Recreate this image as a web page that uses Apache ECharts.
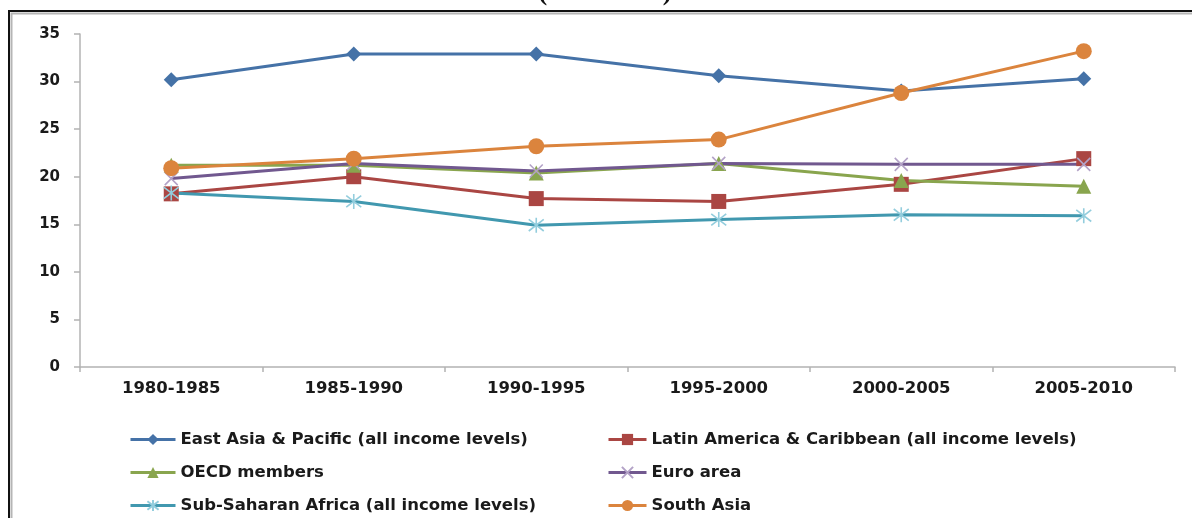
<!DOCTYPE html>
<html>
<head>
<meta charset="utf-8">
<script src="https://cdn.jsdelivr.net/npm/echarts@6/dist/echarts.min.js"></script>
<style>
  html, body { margin: 0; padding: 0; background: #ffffff; }
  #chart { width: 1192px; height: 518px; }
</style>
</head>
<body>
<div id="chart"></div>
<script>
// Five-year periods on the category axis
const periods = ['1980-1985', '1985-1990', '1990-1995', '1995-2000', '2000-2005', '2005-2010'];

// Gross savings, % of GDP
const eastAsiaPacific       = [30.2, 32.9, 32.9, 30.6, 29.0, 30.3];
const latinAmericaCaribbean = [18.2, 20.0, 17.7, 17.4, 19.2, 21.9];
const oecdMembers           = [21.2, 21.2, 20.4, 21.4, 19.6, 19.0];
const euroArea              = [19.8, 21.4, 20.6, 21.4, 21.3, 21.3];
const subSaharanAfrica      = [18.3, 17.4, 14.9, 15.5, 16.0, 15.9];
const southAsia             = [20.9, 21.9, 23.2, 23.9, 28.8, 33.2];

const seriesNames = [
  'East Asia & Pacific (all income levels)',
  'Latin America & Caribbean (all income levels)',
  'OECD members',
  'Euro area',
  'Sub-Saharan Africa (all income levels)',
  'South Asia'
];

const FONT = 'DejaVu Sans';
const crossPath = 'path://M0,0L10,10M10,0L0,10';
const starPath = 'path://M0,0L10,10M10,0L0,10M5,-1.5L5,11.5';

function filled(name, data, color, symbol, size) {
  return {
    name, type: 'line', data,
    symbol, symbolSize: size,
    lineStyle: { color, width: 3 },
    itemStyle: { color },
    emphasis: { disabled: true }
  };
}
function stroked(name, data, color, markColor, symbol, size) {
  return {
    name, type: 'line', data,
    symbol, symbolSize: size,
    lineStyle: { color, width: 3 },
    itemStyle: { color: 'rgba(0,0,0,0)', borderColor: markColor, borderWidth: 1.6 },
    emphasis: { disabled: true }
  };
}

const legendText = { fontFamily: FONT, fontWeight: 'bold', fontSize: 16.5, color: '#1a1a1a', lineHeight: 14 };

const option = {
  animation: false,
  backgroundColor: '#ffffff',
  graphic: [
    // frame around the chart area
    { type: 'rect', shape: { x: 9, y: 11, width: 1300, height: 600 },
      style: { fill: 'none', stroke: '#111111', lineWidth: 2 }, z: 100 },
    { type: 'rect', shape: { x: 11.5, y: 13.5, width: 1300, height: 600 },
      style: { fill: 'none', stroke: '#b5b5b5', lineWidth: 2 }, z: 100 },
    // lower edge of the heading line
    { type: 'text', x: 605, y: 6,
      style: { text: '(% of GDP)', font: 'bold 26px "Liberation Serif"', fill: '#111111',
               align: 'center', verticalAlign: 'bottom' }, z: 100 }
  ],
  grid: { left: 80, right: 17, top: 34, bottom: 151, containLabel: false },
  xAxis: {
    type: 'category',
    data: periods,
    boundaryGap: true,
    axisLine: { lineStyle: { color: '#b3b3b3', width: 1.5 } },
    axisTick: { show: true, length: 5, lineStyle: { color: '#b3b3b3', width: 1.5 } },
    axisLabel: { fontFamily: FONT, fontWeight: 'bold', fontSize: 16.5, color: '#1a1a1a', margin: 13 },
    splitLine: { show: false }
  },
  yAxis: {
    type: 'value',
    min: 0, max: 35, interval: 5,
    axisLine: { show: true, lineStyle: { color: '#b3b3b3', width: 1.5 } },
    axisTick: { show: true, length: 6, lineStyle: { color: '#b3b3b3', width: 1.5 } },
    axisLabel: { fontFamily: FONT, fontWeight: 'bold', fontSize: 15, color: '#1a1a1a', margin: 20 },
    splitLine: { show: false }
  },
  legend: [
    {
      data: [seriesNames[0], seriesNames[2], seriesNames[4]],
      orient: 'vertical', left: 129, top: 431, width: 460, height: 120, padding: 0,
      itemWidth: 45, itemHeight: 14, itemGap: 16,
      lineStyle: { width: 3 },
      textStyle: legendText, selectedMode: false
    },
    {
      data: [seriesNames[1], seriesNames[3], seriesNames[5]],
      orient: 'vertical', left: 607, top: 431, width: 560, height: 120, padding: 0,
      itemWidth: 38, itemHeight: 14, itemGap: 16,
      lineStyle: { width: 3 },
      textStyle: legendText, selectedMode: false
    }
  ],
  series: [
    filled(seriesNames[0], eastAsiaPacific, '#4572A7', 'diamond', 15),
    filled(seriesNames[1], latinAmericaCaribbean, '#AA4643', 'rect', 15),
    filled(seriesNames[2], oecdMembers, '#89A54E', 'triangle', 15),
    stroked(seriesNames[3], euroArea, '#71588F', '#B3A2C7', crossPath, 13),
    stroked(seriesNames[4], subSaharanAfrica, '#4198AF', '#93CDDD', starPath, 15),
    filled(seriesNames[5], southAsia, '#DB843D', 'circle', 16)
  ]
};

const chart = echarts.init(document.getElementById('chart'), null, { renderer: 'canvas' });
chart.setOption(option);
</script>
</body>
</html>
